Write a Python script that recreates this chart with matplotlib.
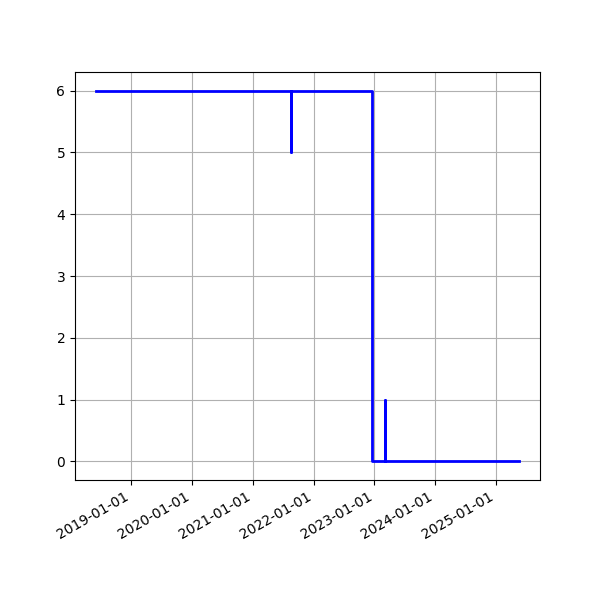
import matplotlib
matplotlib.use("Agg")
import matplotlib.pyplot as plt
import matplotlib.dates as mdates
import numpy as np

dates = ["2018-06-05", "2021-08-16", "2021-08-17", "2022-12-15", "2023-03-06", "2023-03-07", "2025-05-18"]
values = [6, 5, 6, 0, 1, 0, 0]

x = np.array(dates, dtype="datetime64[D]")

fig, ax = plt.subplots(figsize=(6, 6), dpi=100)
ax.plot(x, values, drawstyle="steps-post", color="blue", linewidth=2)
ax.grid(True)
ax.xaxis.set_major_locator(mdates.YearLocator())
ax.xaxis.set_major_formatter(mdates.DateFormatter("%Y-%m-%d"))
fig.autofmt_xdate()
fig.savefig("out.png", dpi=100)
